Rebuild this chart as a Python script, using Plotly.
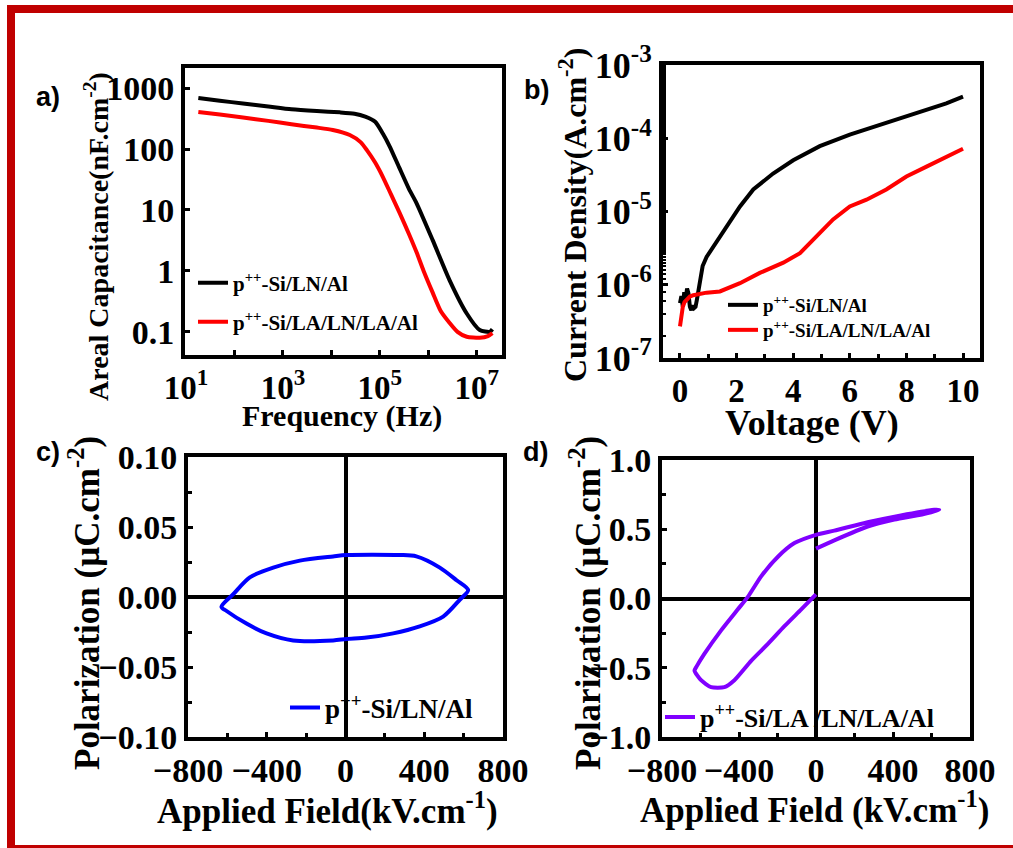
import plotly.graph_objects as go

# ---------------- data ----------------
# a) Areal capacitance vs frequency
freq_ln = [18, 50, 150, 500, 1500, 5000, 15000, 30000, 50000, 80000, 115000, 160000,
           250000, 400000, 570000, 1.23e6, 2.75e6, 6.2e6, 1.15e7, 1.86e7, 2.1e7]
cap_ln = [690, 620, 560, 500, 450, 420, 400, 380, 340, 280, 180, 110,
          50, 22, 13, 3.2, 0.7, 0.2, 0.107, 0.1, 0.11]
freq_la = [18, 50, 150, 500, 1500, 5000, 10700, 24000, 40000, 54000, 80000, 115000,
           170000, 257000, 400000, 575000, 800000, 1.23e6, 1.8e6, 2.75e6, 4e6, 6.2e6,
           1.15e7, 1.7e7, 2.1e7]
cap_la = [407, 370, 330, 290, 255, 225, 205, 170, 130, 96, 60, 35,
          18, 8.9, 4.0, 2.0, 1.0, 0.44, 0.22, 0.14, 0.1, 0.083,
          0.08, 0.085, 0.095]
freq_ticks = [1e1, 1e3, 1e5, 1e7]
freq_ticktext = ["10<sup>1</sup>", "10<sup>3</sup>", "10<sup>5</sup>", "10<sup>7</sup>"]
freq_minor = [1e2, 1e4, 1e6]
cap_ticks = [0.1, 1, 10, 100, 1000]
cap_ticktext = ["0.1", "1", "10", "100", "1000"]

# b) Current density vs voltage
v_ln = [0.0, 0.05, 0.1, 0.15, 0.2, 0.25, 0.3, 0.35, 0.4, 0.45, 0.5, 0.55, 0.6, 0.7,
        0.8, 0.94, 1.18, 1.65, 2.12, 2.59, 3.29, 4.0, 4.94, 6.0, 7.18, 8.35, 9.41, 10.0]
j_ln = [5.6e-7, 7.0e-7, 5.0e-7, 7.9e-7, 6.3e-7, 8.9e-7, 7.6e-7, 5.0e-7, 4.5e-7, 5.2e-7,
        4.8e-7, 5.0e-7, 6.3e-7, 1.1e-6, 1.8e-6, 2.4e-6, 3.3e-6, 6.3e-6, 1.17e-5, 2.0e-5,
        3.3e-5, 5.0e-5, 7.8e-5, 1.12e-4, 1.58e-4, 2.2e-4, 3.0e-4, 3.7e-4]
v_la = [0.0, 0.03, 0.06, 0.1, 0.16, 0.24, 0.35, 0.47, 0.7, 0.94, 1.41, 2.12, 2.82, 3.65,
        4.24, 4.94, 5.41, 6.0, 6.59, 7.29, 8.0, 8.71, 9.41, 10.0]
j_la = [2.7e-7, 3.2e-7, 4.1e-7, 5.0e-7, 5.8e-7, 6.3e-7, 6.9e-7, 7.2e-7, 7.6e-7, 7.8e-7,
        8.1e-7, 1.05e-6, 1.45e-6, 2.0e-6, 2.7e-6, 5.0e-6, 7.8e-6, 1.17e-5, 1.45e-5, 2.0e-5,
        3.0e-5, 4.1e-5, 5.6e-5, 7.2e-5]
j_ticks = [1e-7, 1e-6, 1e-5, 1e-4, 1e-3]
j_ticktext = ["10<sup>-7</sup>", "10<sup>-6</sup>", "10<sup>-5</sup>", "10<sup>-4</sup>", "10<sup>-3</sup>"]

# c) P-E loop, p++-Si/LN/Al
e_c = [-630, -570, -486, -367, -232, -63, 5, 276, 360, 479, 564, 623,
       580, 496, 377, 242, 107, 5, -63, -266, -401, -503, -604, -630]
p_c = [-0.007, 0.002, 0.014, 0.021, 0.026, 0.029, 0.030, 0.030, 0.029, 0.021, 0.012, 0.005,
       -0.002, -0.014, -0.021, -0.026, -0.029, -0.030, -0.031, -0.031, -0.026, -0.019, -0.010, -0.007]

# d) P-E loop, p++-Si/LA/LN/LA/Al
e_d = [0, -78, -164, -251, -337, -424, -476, -545, -597, -631, -620, -580, -493, -407,
       -355, -285, -199, -112, 0, 95, 268, 441, 614, 640, 560, 407, 268, 95, 0]
p_d = [0.03, -0.08, -0.2, -0.33, -0.45, -0.59, -0.64, -0.64, -0.59, -0.52, -0.49, -0.40,
       -0.23, -0.08, 0.01, 0.16, 0.30, 0.40, 0.46, 0.49, 0.55, 0.60, 0.64, 0.64, 0.61,
       0.57, 0.52, 0.42, 0.36]
field_ticks = [-800, -400, 0, 400, 800]

# ---------------- figure ----------------
W, H = 1013, 848
SERIF = "Liberation Serif"
BLACK, RED, BLUE, PURPLE = "#000000", "#ff0000", "#0000ff", "#8000ff"


def px_x(v):
    return v / W


def px_y(v):
    return 1 - v / H


fig = go.Figure()
fig.add_trace(go.Scatter(x=freq_ln, y=cap_ln, mode="lines", line=dict(color=BLACK, width=4, shape="spline", smoothing=0.6),
                         name="p<sup>++</sup>-Si/LN/Al", xaxis="x", yaxis="y", legend="legend"))
fig.add_trace(go.Scatter(x=freq_la, y=cap_la, mode="lines", line=dict(color=RED, width=4, shape="spline", smoothing=0.6),
                         name="p<sup>++</sup>-Si/LA/LN/LA/Al", xaxis="x", yaxis="y", legend="legend2"))
fig.add_trace(go.Scatter(x=v_ln, y=j_ln, mode="lines", line=dict(color=BLACK, width=4),
                         name="p<sup>++</sup>-Si/LN/Al", xaxis="x2", yaxis="y2", legend="legend3"))
fig.add_trace(go.Scatter(x=v_la, y=j_la, mode="lines", line=dict(color=RED, width=4),
                         name="p<sup>++</sup>-Si/LA/LN/LA/Al", xaxis="x2", yaxis="y2", legend="legend4"))
fig.add_trace(go.Scatter(x=e_c, y=p_c, mode="lines", line=dict(color=BLUE, width=4, shape="spline", smoothing=0.8),
                         name="p<sup>++</sup>-Si/LN/Al", xaxis="x3", yaxis="y3", legend="legend5"))
fig.add_trace(go.Scatter(x=e_d, y=p_d, mode="lines", line=dict(color=PURPLE, width=4, shape="spline", smoothing=0.6),
                         name="p<sup>++</sup>-Si/LA /LN/LA/Al", xaxis="x4", yaxis="y4", legend="legend6"))


def tfont(size):
    return dict(family=SERIF, size=size, color=BLACK, weight="bold")


base_axis = dict(showline=True, linewidth=4, linecolor=BLACK, mirror=True, showgrid=False,
                 ticks="inside", ticklen=5, tickwidth=3, tickcolor=BLACK, tickfont=tfont(34),
                 zeroline=False, automargin=False)

layout = dict(
    width=W, height=H, margin=dict(l=0, r=0, t=0, b=0, pad=0, autoexpand=False),
    paper_bgcolor="white", plot_bgcolor="white", showlegend=True,
    xaxis=dict(base_axis, domain=[px_x(185), px_x(502)], anchor="y", type="log",
               range=[0.98, 7.52], tickvals=freq_ticks, ticktext=freq_ticktext, tickfont=tfont(33),
               minor=dict(ticks="inside", tickvals=freq_minor, ticklen=5, tickwidth=3,
                          tickcolor=BLACK)),
    yaxis=dict(base_axis, domain=[px_y(355), px_y(68)], anchor="x", type="log",
               range=[-1.38, 3.33], tickvals=cap_ticks, ticktext=cap_ticktext),
    xaxis2=dict(base_axis, domain=[px_x(663), px_x(980)], anchor="y2",
                range=[-0.6, 10.6], tickvals=[0, 2, 4, 6, 8, 10], tickfont=tfont(33),
                minor=dict(ticks="inside", dtick=1, ticklen=4, tickwidth=3, tickcolor=BLACK)),
    yaxis2=dict(base_axis, domain=[px_y(358), px_y(65)], anchor="x2", type="log",
                range=[-7, -3], tickvals=j_ticks, ticktext=j_ticktext, tickfont=tfont(36),
                minor=dict(ticks="inside", ticklen=3, tickwidth=2, tickcolor=BLACK)),
    xaxis3=dict(base_axis, domain=[px_x(188), px_x(503)], anchor="y3",
                range=[-800, 800], tickvals=field_ticks, zeroline=True,
                zerolinecolor=BLACK, zerolinewidth=4,
                minor=dict(ticks="inside", dtick=200, ticklen=4, tickwidth=3, tickcolor=BLACK)),
    yaxis3=dict(base_axis, domain=[px_y(737), px_y(457)], anchor="x3",
                range=[-0.1, 0.1], dtick=0.05, tickformat=".2f", zeroline=True,
                zerolinecolor=BLACK, zerolinewidth=4,
                minor=dict(ticks="inside", dtick=0.025, ticklen=4, tickwidth=3, tickcolor=BLACK)),
    xaxis4=dict(base_axis, domain=[px_x(662), px_x(970)], anchor="y4",
                range=[-800, 800], tickvals=field_ticks, zeroline=True,
                zerolinecolor=BLACK, zerolinewidth=4,
                minor=dict(ticks="inside", dtick=200, ticklen=4, tickwidth=3, tickcolor=BLACK)),
    yaxis4=dict(base_axis, domain=[px_y(737), px_y(460)], anchor="x4",
                range=[-1.0, 1.0], dtick=0.5, tickformat=".1f", zeroline=True,
                zerolinecolor=BLACK, zerolinewidth=4,
                minor=dict(ticks="inside", dtick=0.25, ticklen=4, tickwidth=3, tickcolor=BLACK)),
)


def leg(xpx, ypx, size):
    return dict(x=px_x(xpx), y=px_y(ypx), xanchor="left", yanchor="middle",
                bgcolor="rgba(0,0,0,0)", borderwidth=0,
                font=dict(family=SERIF, size=size, color=BLACK, weight="bold"))


layout["legend"] = leg(193, 283, 21)
layout["legend2"] = leg(193, 322, 21)
layout["legend3"] = leg(723, 305, 19)
layout["legend4"] = leg(723, 330, 19)
layout["legend5"] = leg(285, 708, 27)
layout["legend6"] = leg(660, 717, 26)

fig.update_layout(**layout)

annotations = [
    # axis titles
    dict(text="Areal Capacitance(nF.cm<sup>-2</sup>)", x=px_x(96), y=px_y(237), textangle=-90,
         font=tfont(28)),
    dict(text="Frequency (Hz)", x=px_x(342), y=px_y(416), font=tfont(30)),
    dict(text="Current Density(A.cm<sup>-2</sup>)", x=px_x(573), y=px_y(215), textangle=-90,
         font=tfont(32)),
    dict(text="Voltage (V)", x=px_x(812), y=px_y(423), font=tfont(36)),
    dict(text="Polarization (µC.cm<sup>-2</sup>)", x=px_x(84), y=px_y(603), textangle=-90,
         font=tfont(35)),
    dict(text="Applied Field(kV.cm<sup>-1</sup>)", x=px_x(327), y=px_y(808), font=tfont(35)),
    dict(text="Polarization (µC.cm<sup>-2</sup>)", x=px_x(585), y=px_y(603), textangle=-90,
         font=tfont(35)),
    dict(text="Applied Field (kV.cm<sup>-1</sup>)", x=px_x(814), y=px_y(807), font=tfont(35)),
]
panel_font = dict(family="Liberation Sans", size=27, color=BLACK, weight="bold")
annotations += [
    dict(text="a)", x=px_x(48), y=px_y(97), font=panel_font),
    dict(text="b)", x=px_x(536), y=px_y(90), font=panel_font),
    dict(text="c)", x=px_x(48), y=px_y(452), font=panel_font),
    dict(text="d)", x=px_x(535), y=px_y(452), font=panel_font),
]
for a in annotations:
    a.update(xref="paper", yref="paper", showarrow=False, xanchor="center", yanchor="middle")
fig.update_layout(annotations=annotations)

# red frame around the figure (top, left, bottom bands)
BORDER = "#c00000"
shapes = [
    dict(type="rect", xref="paper", yref="paper", x0=px_x(7), x1=1.0, y0=px_y(13), y1=px_y(5),
         fillcolor=BORDER, line=dict(width=0), layer="above"),
    dict(type="rect", xref="paper", yref="paper", x0=px_x(7), x1=px_x(15), y0=px_y(848), y1=px_y(5),
         fillcolor=BORDER, line=dict(width=0), layer="above"),
    dict(type="rect", xref="paper", yref="paper", x0=px_x(7), x1=1.0, y0=px_y(848), y1=px_y(845),
         fillcolor=BORDER, line=dict(width=0), layer="above"),
]
fig.update_layout(shapes=shapes)

fig.write_html("out.html")
